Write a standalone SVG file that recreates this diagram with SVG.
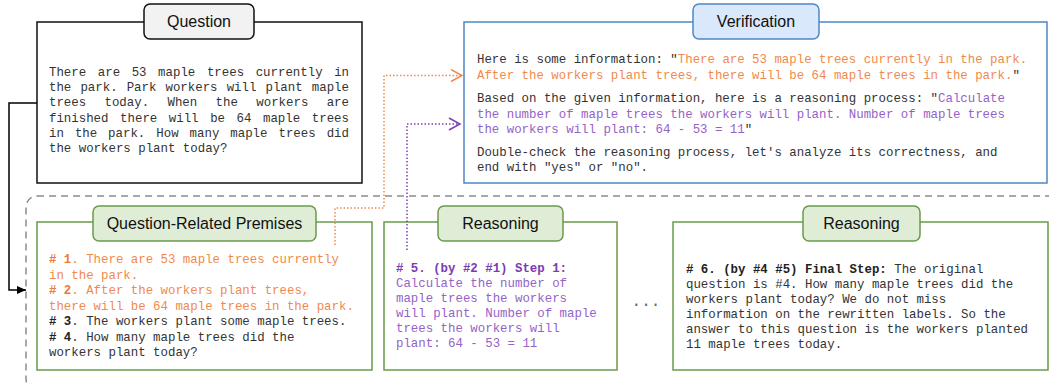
<svg xmlns="http://www.w3.org/2000/svg" width="1049" height="383" viewBox="0 0 1049 383">
<defs>
<style>
.mono{font-family:"Liberation Mono","Courier New",monospace;font-size:12.4px;fill:#333;}
.title{font-family:"Liberation Sans",Arial,sans-serif;font-size:16px;fill:#111;text-anchor:middle;}
.or{fill:#EF8A4E;}
.orb{fill:#EC7A38;font-weight:bold;}
.pu{fill:#9463C8;}
.pub{fill:#7A3CB0;font-weight:bold;}
.b{font-weight:bold;fill:#222;}
.gbox{fill:#fff;stroke:#6A9A4A;stroke-width:1.5;}
.gtab{fill:#DFEDD6;stroke:#6A9A4A;stroke-width:1.5;}
</style>
<marker id="arrBlack" markerWidth="10" markerHeight="10" refX="9" refY="5" orient="auto" markerUnits="userSpaceOnUse">
<path d="M0,1 L9,5 L0,9 Z" fill="#000"/>
</marker>
<marker id="arrOrange" markerWidth="14" markerHeight="14" refX="12" refY="7" orient="auto" markerUnits="userSpaceOnUse">
<path d="M1,1 L12,7 L1,13" fill="none" stroke="#EF8A4E" stroke-width="1.5"/>
</marker>
<marker id="arrPurple" markerWidth="14" markerHeight="14" refX="12" refY="7" orient="auto" markerUnits="userSpaceOnUse">
<path d="M1,1 L12,7 L1,13" fill="none" stroke="#7E3FB5" stroke-width="1.5"/>
</marker>
</defs>
<rect width="1049" height="383" fill="#fff"/>

<!-- dashed container -->
<g id="container">
<rect x="26" y="196" width="1040" height="194" rx="11" fill="none" stroke="#8C8C8C" stroke-width="1.5" stroke-dasharray="7 5"/>
</g>

<!-- Question -->
<g id="question">
<rect x="37" y="22" width="325" height="161" fill="#fff" stroke="#111" stroke-width="1.5"/>
<rect x="144" y="4" width="110" height="35" rx="6" fill="#F2F2F2" stroke="#111" stroke-width="1.5"/>
<text class="title" x="199" y="27.3">Question</text>
<text class="mono" y="76"><tspan x="49">There</tspan><tspan x="97.8">are</tspan><tspan x="131.7">53</tspan><tspan x="158.1">maple</tspan><tspan x="206.9">trees</tspan><tspan x="255.7">currently</tspan><tspan x="334.2">in</tspan></text>
<text class="mono" y="91.2"><tspan x="49">the</tspan><tspan x="80.4">park.</tspan><tspan x="126.7">Park</tspan><tspan x="165.5">workers</tspan><tspan x="226.7">will</tspan><tspan x="265.5">plant</tspan><tspan x="311.8">maple</tspan></text>
<text class="mono" y="106.4"><tspan x="49">trees</tspan><tspan x="104.5">today.</tspan><tspan x="167.5">When</tspan><tspan x="215.6">the</tspan><tspan x="256.3">workers</tspan><tspan x="326.7">are</tspan></text>
<text class="mono" y="121.6"><tspan x="49">finished</tspan><tspan x="120.1">there</tspan><tspan x="168.8">will</tspan><tspan x="210.2">be</tspan><tspan x="236.6">64</tspan><tspan x="263">maple</tspan><tspan x="311.8">trees</tspan></text>
<text class="mono" y="136.8"><tspan x="49">in</tspan><tspan x="74.9">the</tspan><tspan x="108.1">park.</tspan><tspan x="156.3">How</tspan><tspan x="189.6">many</tspan><tspan x="230.3">maple</tspan><tspan x="278.5">trees</tspan><tspan x="326.7">did</tspan></text>
<text class="mono" x="49" y="152">the workers plant today?</text>
</g>

<!-- Verification -->
<g id="verification">
<rect x="464" y="22" width="583" height="161" fill="#fff" stroke="#4F86C6" stroke-width="1.5"/>
<rect x="693" y="4" width="126" height="35" rx="6" fill="#DAE8FC" stroke="#4F86C6" stroke-width="1.5"/>
<text class="title" x="756" y="27.3">Verification</text>
<text class="mono" x="477" y="63">Here is some information: "<tspan class="or">There are 53 maple trees currently in the park.</tspan></text>
<text class="mono" x="477" y="78.5"><tspan class="or">After the workers plant trees, there will be 64 maple trees in the park.</tspan>"</text>
<text class="mono" x="477" y="102">Based on the given information, here is a reasoning process: "<tspan class="pu">Calculate</tspan></text>
<text class="mono pu" x="477" y="117.5">the number of maple trees the workers will plant. Number of maple trees</text>
<text class="mono" x="477" y="132.5"><tspan class="pu">the workers will plant: 64 - 53 = 11</tspan>"</text>
<text class="mono" x="477" y="156">Double-check the reasoning process, let's analyze its correctness, and</text>
<text class="mono" x="477" y="171">end with "yes" or "no".</text>
</g>

<!-- Question-Related Premises -->
<g id="premises">
<rect class="gbox" x="37" y="222" width="335" height="148"/>
<rect class="gtab" x="93" y="206" width="223" height="35" rx="6"/>
<text class="title" x="204.5" y="229.3">Question-Related Premises</text>
<text class="mono or" x="49" y="263"><tspan class="orb"># 1</tspan>. There are 53 maple trees currently</text>
<text class="mono or" x="49" y="278.5">in the park.</text>
<text class="mono or" x="49" y="294"><tspan class="orb"># 2</tspan>. After the workers plant trees,</text>
<text class="mono or" x="49" y="309.5">there will be 64 maple trees in the park.</text>
<text class="mono" x="49" y="325"><tspan class="b"># 3</tspan>. The workers plant some maple trees.</text>
<text class="mono" x="49" y="340.5"><tspan class="b"># 4</tspan>. How many maple trees did the</text>
<text class="mono" x="49" y="356">workers plant today?</text>
</g>

<!-- Reasoning (middle) -->
<g id="reasoning1">
<rect class="gbox" x="384" y="222" width="233" height="148"/>
<rect class="gtab" x="438" y="206" width="125" height="35" rx="6"/>
<text class="title" x="500.5" y="229.3">Reasoning</text>
<text class="mono pub" x="396" y="271.5"># 5. (by #2 #1) Step 1:</text>
<text class="mono pu" x="396" y="287">Calculate the number of</text>
<text class="mono pu" x="396" y="302">maple trees the workers</text>
<text class="mono pu" x="396" y="317">will plant. Number of maple</text>
<text class="mono pu" x="396" y="332">trees the workers will</text>
<text class="mono pu" x="396" y="347">plant: 64 - 53 = 11</text>
</g>

<g id="ellipsis">
<text x="646" y="306" text-anchor="middle" style="font-family:'Liberation Mono',monospace;font-size:16px;fill:#666;">...</text>
</g>

<!-- Reasoning (right) -->
<g id="reasoning2">
<rect class="gbox" x="673" y="222" width="375" height="148"/>
<rect class="gtab" x="803" y="206" width="117" height="35" rx="6"/>
<text class="title" x="861.5" y="229.3">Reasoning</text>
<text class="mono" x="686" y="273"><tspan class="b"># 6. (by #4 #5) Final Step:</tspan> The original</text>
<text class="mono" x="686" y="288">question is #4. How many maple trees did the</text>
<text class="mono" x="686" y="303">workers plant today? We do not miss</text>
<text class="mono" x="686" y="318">information on the rewritten labels. So the</text>
<text class="mono" x="686" y="333">answer to this question is the workers planted</text>
<text class="mono" x="686" y="348">11 maple trees today.</text>
</g>

<!-- connectors -->
<g id="connectors" fill="none">
<path d="M37,103 H9 V290 H26" stroke="#000" stroke-width="1.5" marker-end="url(#arrBlack)"/>
<path d="M335,245 V208 H384 V75.5 H462" stroke="#EF8A4E" stroke-width="1.5" stroke-dasharray="1.5 2" marker-end="url(#arrOrange)"/>
<path d="M407,250 V124 H460" stroke="#7E3FB5" stroke-width="1.5" stroke-dasharray="1.5 2" marker-end="url(#arrPurple)"/>
</g>
</svg>
